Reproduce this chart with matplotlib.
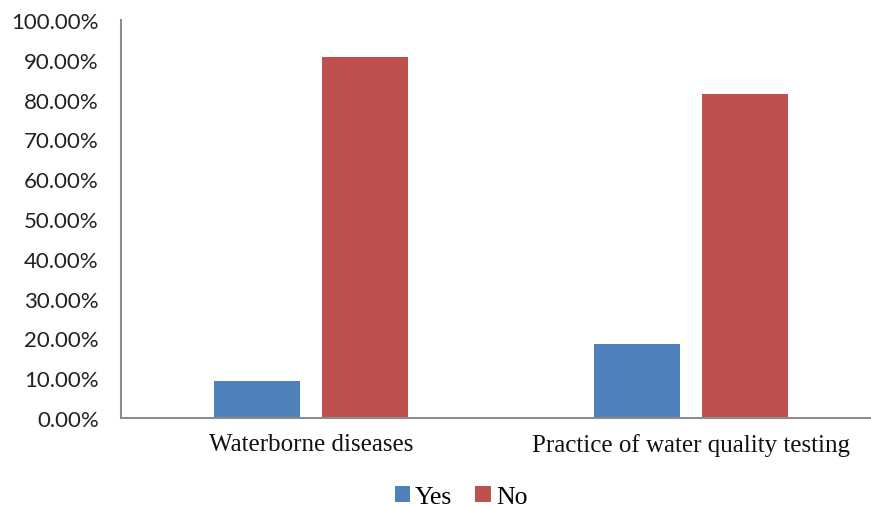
import numpy as np
import matplotlib.pyplot as plt
from matplotlib.ticker import FuncFormatter

categories = ["Waterborne diseases", "Practice of water quality testing"]
yes_vals = [9.3, 18.7]
no_vals = [90.7, 81.3]
series = ["Yes", "No"]
colors = ["#4F81BD", "#C0504D"]

fig = plt.figure(figsize=(8.71, 5.10), dpi=100)
ax = fig.add_axes([121 / 871, 1 - 419 / 510, 760 / 871, 398 / 510])

x = np.arange(len(categories))
w = 0.226
off = 0.142
ax.bar(x - off, yes_vals, w, color=colors[0], label=series[0])
ax.bar(x + off, no_vals, w, color=colors[1], label=series[1])

ax.set_xlim(-0.5, 1.5)
ax.set_ylim(0, 100)
ax.set_yticks(np.arange(0, 101, 10))
ax.yaxis.set_major_formatter(FuncFormatter(lambda v, p: f"{v:.2f}%"))
ax.set_xticks(x)
ax.set_xticklabels(categories, fontfamily="Liberation Serif", fontsize=18)

for lab in ax.get_yticklabels():
    lab.set_fontfamily("Lato")
    lab.set_fontsize(16)
ax.tick_params(axis="y", length=0, pad=16, colors="#222222")
ax.tick_params(axis="x", length=0, pad=11, colors="#111111")

for s in ["top", "right"]:
    ax.spines[s].set_visible(False)
ax.spines["left"].set_color("#8c8c8c")
ax.spines["bottom"].set_color("#8c8c8c")
ax.spines["left"].set_linewidth(1.5)
ax.spines["bottom"].set_linewidth(1.5)

fig.legend(loc="center", bbox_to_anchor=(461 / 871, 1 - 498 / 510), ncol=2,
           frameon=False, prop={"family": "Liberation Serif", "size": 18.5},
           handlelength=0.6, handleheight=0.6, handletextpad=0.2, columnspacing=0.9)

fig.savefig("out.png", dpi=100)
